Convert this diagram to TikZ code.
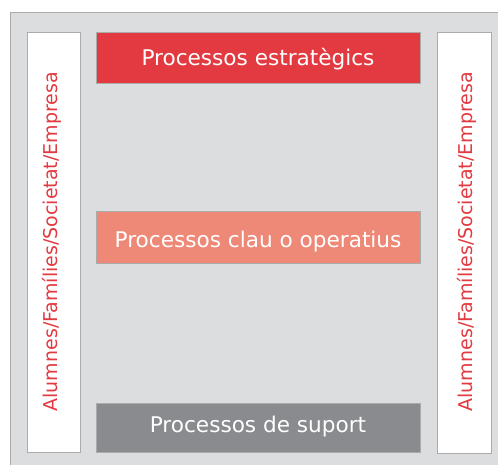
\documentclass[tikz,border=0pt]{standalone}
\usepackage{fontspec}
\setmainfont{DejaVu Sans}
\definecolor{bgray}{HTML}{DCDDDF}
\definecolor{edge}{HTML}{ABABAB}
\definecolor{pred}{HTML}{E23A40}
\definecolor{psalmon}{HTML}{EE8978}
\definecolor{pgray}{HTML}{8A8B8E}
\begin{document}
\begin{tikzpicture}[x=1pt,y=-1pt,
  procbox/.style={draw=edge,line width=1pt},
  proctext/.style={text=white,anchor=base,inner sep=0pt,font=\fontsize{21.6}{26}\selectfont},
  sidebox/.style={draw=edge,line width=1pt,fill=white},
  sidetext/.style={text=pred,rotate=90,anchor=base,inner sep=0pt,font=\fontsize{19}{23}\selectfont}]
\useasboundingbox (0,0) rectangle (498,464);
\fill[white] (0,0) rectangle (498,464);
\draw[edge,fill=bgray,line width=1pt] (10,12) -- (510,12) -- (510,480) -- (10,480) -- cycle;
% side panels
\draw[sidebox] (27,32) rectangle (80,452);
\draw[sidebox] (437,32) rectangle (491,453);
\node[sidetext] (left) at (57.7,241.7) {Alumnes/Famílies/Societat/Empresa};
\node[sidetext] (right) at (472,241.7) {Alumnes/Famílies/Societat/Empresa};
% process bands
\draw[procbox,fill=pred] (96.5,32) rectangle (420,83);
\draw[procbox,fill=psalmon] (96.5,211) rectangle (420,263);
\draw[procbox,fill=pgray] (96.5,403) rectangle (420,452);
\node[proctext] (estr) at (258,65.7) {Processos estratègics};
\node[proctext] (clau) at (258,247.3) {Processos clau o operatius};
\node[proctext] (sup) at (258,432.3) {Processos de suport};
\end{tikzpicture}
\end{document}
